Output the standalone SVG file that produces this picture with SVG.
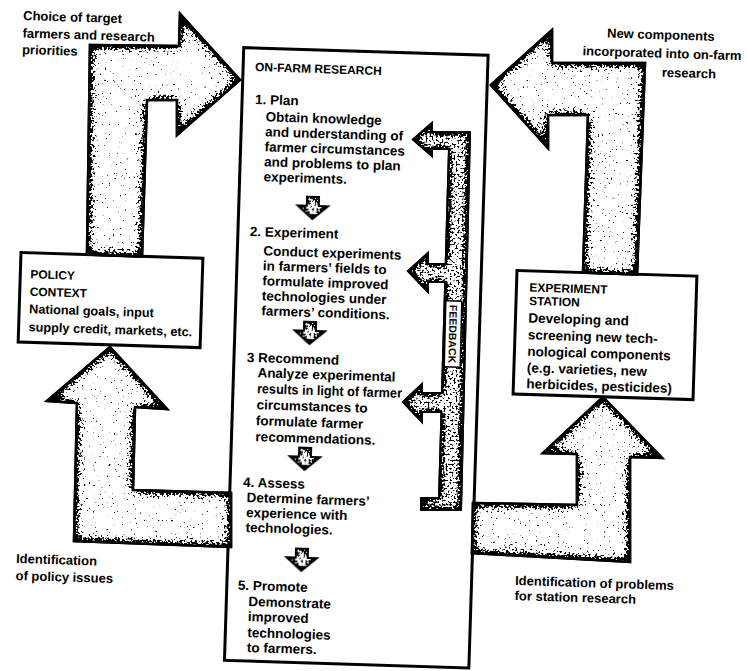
<svg xmlns="http://www.w3.org/2000/svg" width="747" height="671" viewBox="0 0 747 671">
<defs>
<style>
.t{font-family:"Liberation Sans",Arial,sans-serif;font-weight:bold;font-size:13.5px;fill:#000}
.h{font-size:12px}
.p{font-size:12.7px}
.lb{font-size:13px}
.fb{font-size:10.5px}
.box{fill:#fff;stroke:#000;stroke-width:3}
.arr{fill:#fff;stroke:#000;stroke-width:2.5;stroke-linejoin:miter;filter:url(#stip)}
.arr2{fill:#fff;stroke:#000;stroke-width:2;stroke-linejoin:miter;filter:url(#stip2)}
.arr3{fill:#fff;stroke:#000;stroke-width:2;stroke-linejoin:miter;filter:url(#stip3)}
</style>
<filter id="stip" x="-5%" y="-5%" width="110%" height="110%" color-interpolation-filters="sRGB">
<feTurbulence type="fractalNoise" baseFrequency="0.45" numOctaves="2" seed="7" result="noise"/>
<feColorMatrix in="noise" type="matrix" values="0 0 0 0 0  0 0 0 0 0  0 0 0 0 0  1 0 0 0 0" result="na"/>
<feGaussianBlur in="SourceAlpha" stdDeviation="6" result="edge"/>
<feComposite in="na" in2="edge" operator="arithmetic" k1="0" k2="1" k3="-1.2" k4="1.2" result="mix"/>
<feComponentTransfer in="mix" result="dots"><feFuncA type="linear" slope="14" intercept="-9.95"/></feComponentTransfer>
<feFlood flood-color="#000"/>
<feComposite in2="dots" operator="in" result="blk"/>
<feComposite in="blk" in2="SourceAlpha" operator="in" result="clip"/>
<feMerge><feMergeNode in="SourceGraphic"/><feMergeNode in="clip"/></feMerge>
</filter>
<filter id="stip2" x="-10%" y="-10%" width="120%" height="120%" color-interpolation-filters="sRGB">
<feTurbulence type="fractalNoise" baseFrequency="0.5" numOctaves="2" seed="3" result="noise"/>
<feColorMatrix in="noise" type="matrix" values="0 0 0 0 0  0 0 0 0 0  0 0 0 0 0  1 0 0 0 0" result="na"/>
<feGaussianBlur in="SourceAlpha" stdDeviation="3" result="edge"/>
<feComposite in="na" in2="edge" operator="arithmetic" k1="0" k2="1" k3="-0.8" k4="0.9" result="mix"/>
<feComponentTransfer in="mix" result="dots"><feFuncA type="linear" slope="14" intercept="-9.6"/></feComponentTransfer>
<feFlood flood-color="#000"/>
<feComposite in2="dots" operator="in" result="blk"/>
<feComposite in="blk" in2="SourceAlpha" operator="in" result="clip"/>
<feMerge><feMergeNode in="SourceGraphic"/><feMergeNode in="clip"/></feMerge>
</filter>
<filter id="stip3" x="-10%" y="-10%" width="120%" height="120%" color-interpolation-filters="sRGB">
<feTurbulence type="fractalNoise" baseFrequency="0.5" numOctaves="2" seed="11" result="noise"/>
<feColorMatrix in="noise" type="matrix" values="0 0 0 0 0  0 0 0 0 0  0 0 0 0 0  1 0 0 0 0" result="na"/>
<feGaussianBlur in="SourceAlpha" stdDeviation="4" result="edge"/>
<feComposite in="na" in2="edge" operator="arithmetic" k1="0" k2="1" k3="-0.9" k4="1.02" result="mix"/>
<feComponentTransfer in="mix" result="dots"><feFuncA type="linear" slope="12" intercept="-8.1"/></feComponentTransfer>
<feFlood flood-color="#000"/>
<feComposite in2="dots" operator="in" result="blk"/>
<feComposite in="blk" in2="SourceAlpha" operator="in" result="clip"/>
<feMerge><feMergeNode in="SourceGraphic"/><feMergeNode in="clip"/></feMerge>
</filter>
<path id="down" d="M-6,0 H6 V9 H15 L0,22 L-15,9 H-6 Z"/>
</defs>
<rect width="747" height="671" fill="#fff"/>

<g id="policy-context" transform="rotate(1.8 22 252)">
<rect class="box" x="21" y="252.5" width="182" height="89.5"/>
<text class="t h" x="31" y="278">POLICY</text>
<text class="t h" x="31" y="295.5">CONTEXT</text>
<text class="t p" x="31" y="313">National goals, input</text>
<text class="t p" x="31" y="331">supply credit, markets, etc.</text>
</g>

<g id="experiment-station" transform="rotate(1.8 517 270)">
<rect class="box" x="517" y="270.5" width="180" height="123.5"/>
<text class="t h" x="530" y="291">EXPERIMENT</text>
<text class="t h" x="530" y="304.5">STATION</text>
<text class="t" x="530" y="322">Developing and</text>
<text class="t" x="530" y="339">screening new tech-</text>
<text class="t" x="530" y="355.5">nological components</text>
<text class="t" x="530" y="372">(e.g. varieties, new</text>
<text class="t" x="530" y="388">herbicides, pesticides)</text>
</g>

<g id="on-farm-research" transform="rotate(1.8 255 71)">
<rect class="box" x="243" y="48" width="244.5" height="613"/>
<text class="t h" x="255" y="71">ON-FARM RESEARCH</text>
<text class="t" x="256" y="104">1. Plan</text>
<text class="t" x="267" y="121">Obtain knowledge</text>
<text class="t" x="267" y="136">and understanding of</text>
<text class="t" x="267" y="151">farmer circumstances</text>
<text class="t" x="267" y="166">and problems to plan</text>
<text class="t" x="267" y="181">experiments.</text>
<use href="#down" class="arr2" transform="translate(317 195)"/>
<text class="t" x="255" y="236">2. Experiment</text>
<text class="t" x="269" y="255">Conduct experiments</text>
<text class="t" x="269" y="270">in farmers’ fields to</text>
<text class="t" x="269" y="285">formulate improved</text>
<text class="t" x="269" y="300">technologies under</text>
<text class="t" x="269" y="315">farmers’ conditions.</text>
<use href="#down" class="arr2" transform="translate(318 320)"/>
<text class="t" x="256" y="362">3 Recommend</text>
<text class="t" x="267" y="377">Analyze experimental</text>
<text class="t" x="267" y="393" textLength="145" lengthAdjust="spacingAndGlyphs">results in light of farmer</text>
<text class="t" x="267" y="409">circumstances to</text>
<text class="t" x="267" y="425">formulate farmer</text>
<text class="t" x="267" y="441">recommendations.</text>
<use href="#down" class="arr2" transform="translate(317 446)"/>
<text class="t" x="256" y="487">4. Assess</text>
<text class="t" x="260" y="502">Determine farmers’</text>
<text class="t" x="260" y="517">experience with</text>
<text class="t" x="260" y="532">technologies.</text>
<use href="#down" class="arr2" transform="translate(317 547)"/>
<text class="t" x="254" y="590">5. Promote</text>
<text class="t" x="265" y="606">Demonstrate</text>
<text class="t" x="265" y="621">improved</text>
<text class="t" x="265" y="637">technologies</text>
<text class="t" x="265" y="652">to farmers.</text>
</g>

<g id="connectors">
<path id="arrow-policy-to-onfarm" class="arr" d="M90,45 L179,46 L180,14 L240,80 L177,135 L177,100 L147,100 L142,256.5 L87,254.5 Z"/>
<path id="arrow-onfarm-to-policy" class="arr" d="M110,347 L167,409 L135,407 L133,490 L231,493 L231,547 L74,541 L77,403 L47,401 Z"/>
<path id="arrow-station-to-onfarm" class="arr" d="M491,85 L552,30 L552,63 L645,63 L637,274.5 L583,272.5 L588,115 L548,115 L548,148 Z"/>
<path id="arrow-onfarm-to-station" class="arr" d="M603,397 L662,458 L630,457 L630,562 L472,553 L473,503 L577,505 L577,454 L543,453 Z"/>
<path id="feedback" class="arr3" d="M413,139.5 L432,123 L432,132 L470,132 L461,510 L421,510 L421,498 L439,498 L441.5,412 L422,412 L422,422 L403,402 L422,384 L422,393 L442,393 L445.2,282 L428,282 L428,292 L408,271 L428,253 L428,264 L445.7,264 L449,149 L432,149 L432,156 Z"/>
<g transform="rotate(1.4 453 334)">
<rect x="445" y="301" width="16" height="66" fill="#fff" stroke="#000" stroke-width="1.5"/>
<text class="t fb" x="453" y="334" text-anchor="middle" dominant-baseline="central" transform="rotate(90 453 334)">FEEDBACK</text>
</g>
</g>

<g id="labels">
<g transform="rotate(1.8 23 20)">
<text class="t lb" x="23" y="20">Choice of target</text>
<text class="t lb" x="23" y="37.5">farmers and research</text>
<text class="t lb" x="23" y="54">priorities</text>
</g>
<g transform="rotate(1.8 607 37.5)">
<text class="t lb" x="607" y="37.5">New components</text>
<text class="t lb" x="583" y="56">incorporated into on-farm</text>
<text class="t lb" x="663" y="75">research</text>
</g>
<g transform="rotate(1.8 16 563)">
<text class="t lb" x="16" y="563">Identification</text>
<text class="t lb" x="16" y="580">of policy issues</text>
</g>
<g transform="rotate(1.8 515 585)">
<text class="t lb" x="515" y="585">Identification of problems</text>
<text class="t lb" x="515" y="600">for station research</text>
</g>
</g>
</svg>
